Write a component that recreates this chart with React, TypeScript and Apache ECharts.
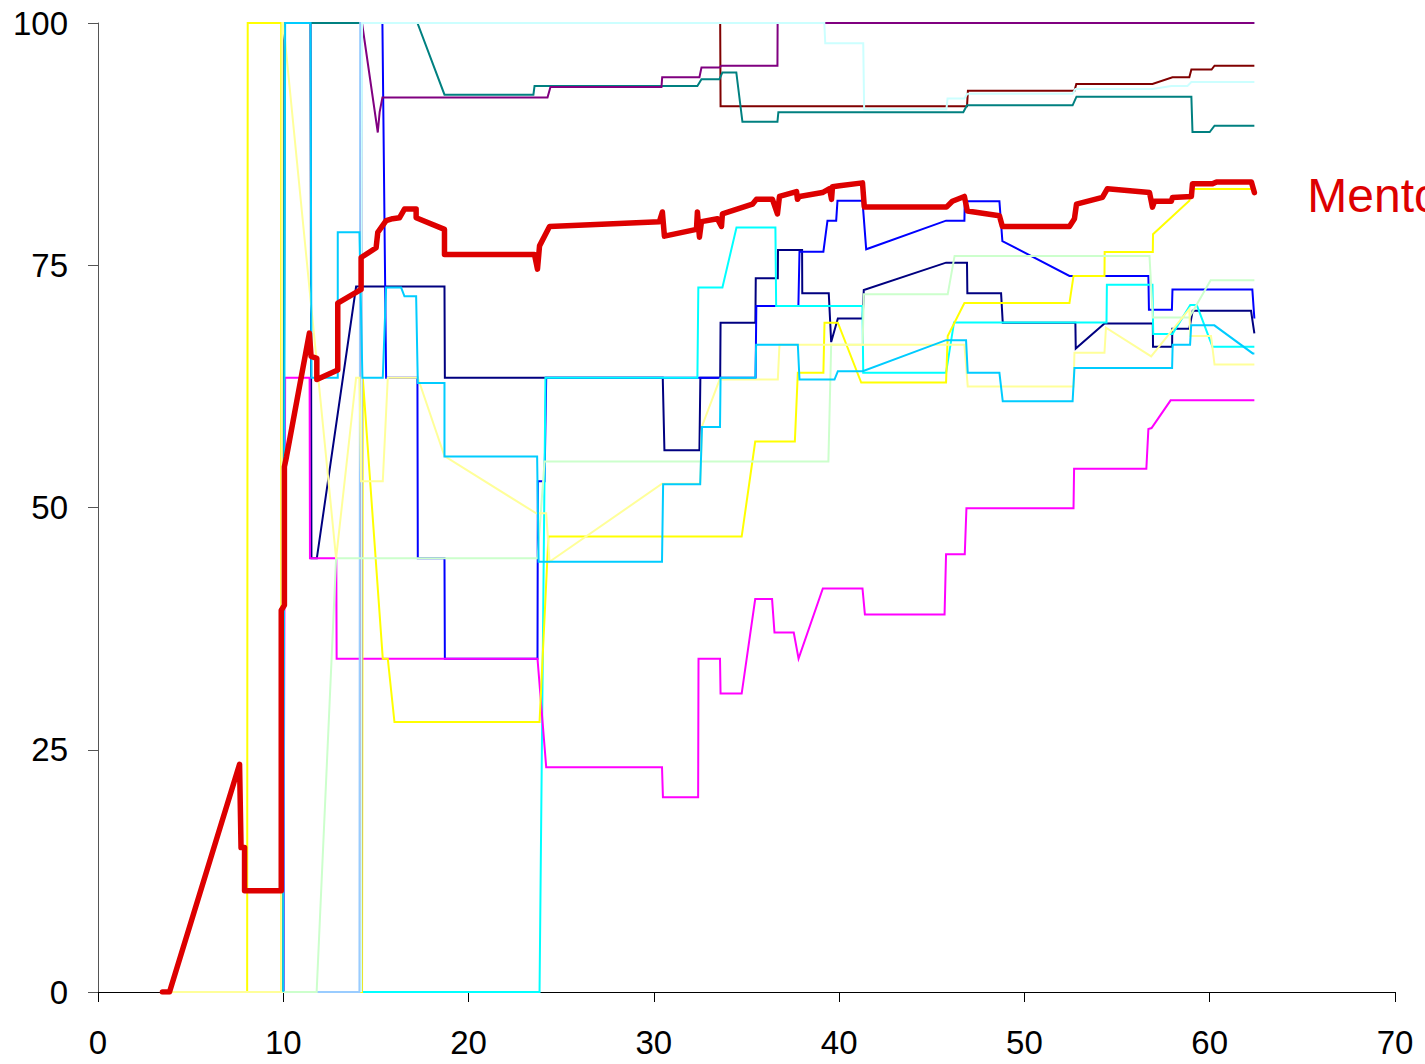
import { useEffect, useRef } from "react";
import * as echarts from "echarts";

// Axis ticks
const xTickValues = [0, 10, 20, 30, 40, 50, 60, 70];
const yTickValues = [0, 25, 50, 75, 100];

// Series values: [x, y] pairs
const maroon = [[9.96,0],[10.0,100],[33.58,100],[33.6,91.4],[46.9,91.4],[46.95,93.0],[52.7,93.0],[52.8,93.7],[56.91,93.7],[57.99,94.4],[58.9,94.4],[59.01,95.2],[60.1,95.2],[60.26,95.6],[62.41,95.6]];
const navy = [[10.0,0],[10.06,100],[11.47,100],[11.52,44.75],[11.81,44.75],[13.93,72.8],[18.7,72.8],[18.72,63.4],[30.48,63.4],[30.57,55.9],[32.46,55.9],[32.51,63.4],[33.58,63.4],[33.6,69.07],[35.48,69.07],[35.5,73.65],[36.69,73.65],[36.7,76.58],[38.0,76.58],[38.01,72.1],[39.44,72.1],[39.57,67.07],[39.93,69.5],[41.27,69.5],[41.33,72.45],[45.77,75.27],[46.9,75.27],[46.92,72.1],[48.74,72.1],[48.83,69.07],[52.75,69.07],[52.77,66.4],[54.32,69.0],[56.93,69.0],[56.94,66.6],[57.97,66.6],[57.98,68.45],[58.9,68.45],[59.08,70.3],[62.23,70.3],[62.41,67.96]];
const blue = [[10.0,0],[10.06,100],[15.35,100],[15.55,63.4],[17.24,63.4],[17.26,44.75],[18.7,44.75],[18.72,34.4],[23.72,34.4],[23.74,52.7],[24.1,52.7],[24.19,63.4],[35.49,63.4],[35.53,70.8],[37.8,70.8],[37.86,76.4],[39.15,76.4],[39.37,79.6],[39.84,79.6],[39.91,81.65],[41.26,81.65],[41.46,76.65],[45.77,79.6],[46.76,79.6],[46.78,81.6],[48.65,81.6],[48.81,77.5],[52.43,73.9],[56.69,73.9],[56.72,70.4],[57.96,70.4],[57.99,72.5],[62.3,72.5],[62.41,69.5]];
const cyan = [[10.0,0],[23.83,0],[24.15,63.4],[32.35,63.4],[32.4,72.7],[33.7,72.7],[34.46,78.9],[36.56,78.9],[36.6,70.8],[41.26,70.8],[41.3,63.9],[45.77,63.9],[46.2,69.1],[54.43,69.1],[54.45,73.0],[56.91,73.0],[56.95,67.9],[57.99,67.9],[58.95,70.9],[59.3,70.9],[60.15,66.6],[62.41,66.6]];
const magenta = [[10.0,0],[10.1,63.4],[11.42,63.4],[11.44,44.75],[12.86,44.75],[12.88,34.4],[23.72,34.4],[24.19,23.2],[30.44,23.2],[30.49,20.1],[32.39,20.1],[32.41,34.4],[33.57,34.4],[33.6,30.8],[34.74,30.8],[35.47,40.55],[36.38,40.55],[36.51,37.1],[37.55,37.1],[37.81,34.4],[39.12,41.65],[41.26,41.65],[41.39,38.97],[45.69,38.97],[45.77,45.17],[46.78,45.17],[46.87,49.93],[52.65,49.93],[52.68,54.0],[56.58,54.0],[56.69,58.1],[56.86,58.2],[57.89,61.06],[62.41,61.06]];
const yellow = [[4.0,0],[8.05,0],[8.08,100],[9.89,100],[9.89,0],[14.25,0],[14.29,63.4],[15.37,34.4],[15.64,34.4],[16.0,27.86],[23.83,27.86],[24.31,47.0],[34.74,47.0],[35.47,56.8],[37.61,56.8],[37.77,63.9],[39.15,63.9],[39.21,69.07],[39.93,69.07],[41.19,62.9],[45.77,62.9],[45.86,67.7],[46.76,71.1],[52.43,71.1],[52.65,73.9],[54.32,73.9],[54.33,76.37],[56.93,76.37],[56.94,78.2],[58.9,81.65],[59.08,82.86],[62.41,82.86]];
const teal = [[9.96,0],[10.06,100],[17.24,100],[18.7,92.6],[23.5,92.6],[23.56,93.5],[32.35,93.5],[32.57,94.2],[33.54,94.2],[33.7,94.9],[34.45,94.9],[34.78,89.8],[36.67,89.8],[36.72,90.8],[46.7,90.8],[46.9,91.5],[52.6,91.5],[52.81,92.4],[59.01,92.4],[59.07,88.75],[60.0,88.75],[60.26,89.4],[62.41,89.4]];
const lightBlue = [[10.0,0],[14.11,0],[14.15,100],[62.41,100]];
const purple = [[14.2,0],[14.25,100],[14.27,100],[15.1,88.7],[15.2,90.8],[15.35,92.3],[24.26,92.3],[24.42,93.4],[30.41,93.4],[30.45,94.4],[32.46,94.4],[32.57,95.4],[33.54,95.4],[33.65,95.6],[36.67,95.6],[36.68,100],[62.41,100]];
const lightCyan = [[14.2,0],[14.25,100],[39.2,100],[39.25,97.9],[41.3,97.9],[41.35,91.1],[45.79,91.1],[45.85,92.2],[46.76,92.2],[46.92,92.7],[52.6,92.7],[52.75,93.2],[56.91,93.2],[57.93,93.5],[58.8,93.5],[59.01,93.9],[62.41,93.9]];
const lightGreen = [[4.0,0],[11.8,0],[12.85,44.75],[23.72,44.75],[24.1,54.75],[39.42,54.75],[39.57,66.8],[41.27,66.8],[41.33,72.0],[45.86,72.0],[46.23,75.96],[56.75,75.96],[56.93,69.6],[58.9,69.6],[60.05,73.45],[62.41,73.45]];
const lightYellow = [[4.0,0],[9.89,0],[9.95,100],[10.0,100],[12.85,44.75],[13.93,63.4],[14.11,63.4],[14.2,52.7],[15.37,52.7],[15.64,63.4],[17.26,63.4],[18.7,55.3],[23.65,49.4],[24.19,49.4],[24.37,44.4],[30.44,52.45],[32.5,52.45],[32.6,58.4],[33.55,63.2],[36.69,63.2],[36.78,66.8],[46.76,66.8],[46.94,62.5],[52.65,62.5],[52.7,65.97],[54.32,65.97],[54.4,68.55],[56.84,65.6],[58.9,70.5],[58.95,67.7],[60.07,67.7],[60.26,64.75],[62.41,64.75]];
const skyBlue = [[10.0,0],[10.1,100],[11.47,100],[11.52,63.4],[12.94,63.4],[12.94,78.4],[14.11,78.4],[14.27,63.4],[15.37,63.4],[15.55,72.7],[16.36,72.7],[16.54,71.8],[17.17,71.8],[17.26,62.86],[18.7,62.86],[18.7,55.27],[23.7,55.27],[23.78,44.4],[30.44,44.4],[30.5,52.4],[32.5,52.4],[32.6,58.3],[33.57,58.3],[33.6,63.4],[35.48,63.4],[35.52,66.8],[37.77,66.8],[37.86,63.2],[39.75,63.2],[39.93,64.07],[41.27,64.07],[45.77,67.27],[46.85,67.27],[46.94,63.9],[48.65,63.9],[48.83,60.96],[52.6,60.96],[52.7,64.4],[57.97,64.4],[58.0,66.8],[58.94,66.8],[59.0,68.8],[60.25,68.8],[62.32,65.9],[62.41,65.9]];
const mentor = [[3.48,0],[3.86,0],[7.64,23.5],[7.72,14.9],[7.91,14.9],[7.91,10.45],[9.89,10.45],[9.89,39.4],[10.06,39.9],[10.06,54.2],[10.17,55.2],[11.41,68],[11.5,65.6],[11.81,65.4],[11.81,63.2],[12.94,64.2],[12.94,71.1],[13.93,72.2],[14.2,72.5],[14.2,75.8],[15.01,76.8],[15.1,78.4],[15.55,79.6],[15.9,79.8],[16.27,79.9],[16.54,80.8],[17.17,80.8],[17.17,79.9],[18.7,78.7],[18.7,76.1],[23.56,76.1],[23.72,74.6],[23.83,77],[24.37,79],[30.3,79.5],[30.46,80.5],[30.57,78],[32.3,78.7],[32.35,80.5],[32.46,77.9],[32.57,79.5],[33.43,79.8],[33.65,79],[33.7,80.3],[35.32,81.3],[35.53,81.8],[36.4,81.8],[36.67,80.3],[36.78,82.1],[37.7,82.6],[37.75,81.8],[37.86,82.1],[39.1,82.5],[39.48,82.9],[39.59,81.8],[39.64,83.1],[40.02,83.2],[41.26,83.5],[41.36,81],[45.79,81],[46.11,81.6],[46.76,82.1],[46.92,80.6],[48.65,80.1],[48.81,79],[52.43,79],[52.7,79.8],[52.81,81.3],[54.21,82],[54.48,82.9],[56.75,82.5],[56.91,81],[57.02,81.6],[57.93,81.6],[57.99,82],[59.01,82.1],[59.07,83.4],[60.15,83.4],[60.37,83.6],[62.25,83.6],[62.41,82.5]];

const mentorName = "Mentor";

const thinSeries = [
  { name: "S1", color: "#800000", data: maroon },
  { name: "S2", color: "#000080", data: navy },
  { name: "S3", color: "#0000FF", data: blue },
  { name: "S4", color: "#00FFFF", data: cyan },
  { name: "S5", color: "#FF00FF", data: magenta },
  { name: "S6", color: "#FFFF00", data: yellow },
  { name: "S7", color: "#008080", data: teal },
  { name: "S8", color: "#99CCFF", data: lightBlue },
  { name: "S9", color: "#800080", data: purple },
  { name: "S10", color: "#CCFFFF", data: lightCyan },
  { name: "S11", color: "#CCFFCC", data: lightGreen },
  { name: "S12", color: "#FFFF99", data: lightYellow },
  { name: "S13", color: "#00CCFF", data: skyBlue },
];

const FONT = "'Liberation Sans', Arial, sans-serif";

export default function App() {
  const ref = useRef<HTMLDivElement>(null);
  useEffect(() => {
    if (!ref.current) return;
    const chart = echarts.init(ref.current, undefined, { renderer: "svg" });
    const series: any[] = thinSeries.map((s) => ({
      name: s.name,
      type: "line",
      data: s.data,
      showSymbol: false,
      symbol: "none",
      silent: true,
      lineStyle: { color: s.color, width: 2, join: "miter" },
      itemStyle: { color: s.color },
      emphasis: { disabled: true },
    }));
    series.push({
      name: mentorName,
      type: "line",
      data: mentor,
      showSymbol: false,
      symbol: "none",
      silent: true,
      z: 5,
      lineStyle: { color: "#DD0000", width: 5.5, cap: "round", join: "round" },
      itemStyle: { color: "#DD0000" },
      emphasis: { disabled: true },
      endLabel: {
        show: true,
        formatter: mentorName,
        distance: 53,
        offset: [0, 3],
        color: "#DD0000",
        fontSize: 48,
        fontFamily: FONT,
      },
    });
    chart.setOption({
      animation: false,
      backgroundColor: "#ffffff",
      grid: { left: 98, right: 30, top: 23, bottom: 72, containLabel: false },
      xAxis: {
        type: "value",
        min: xTickValues[0],
        max: xTickValues[xTickValues.length - 1],
        interval: xTickValues[1] - xTickValues[0],
        splitLine: { show: false },
        axisLine: { show: true, onZero: false, lineStyle: { color: "#000", width: 1 } },
        axisTick: { show: true, length: 10, inside: false, lineStyle: { color: "#000" } },
        axisLabel: { color: "#000", fontSize: 33, fontFamily: FONT, margin: 34 },
      },
      yAxis: {
        type: "value",
        min: yTickValues[0],
        max: yTickValues[yTickValues.length - 1],
        interval: yTickValues[1] - yTickValues[0],
        splitLine: { show: false },
        axisLine: { show: true, lineStyle: { color: "#555", width: 1 } },
        axisTick: { show: true, length: 10, inside: false, lineStyle: { color: "#555" } },
        axisLabel: { color: "#000", fontSize: 33, fontFamily: FONT, margin: 30 },
      },
      series,
    });
    return () => chart.dispose();
  }, []);
  return (
    <div
      ref={ref}
      style={{ position: "absolute", left: 0, top: 0, width: 1425, height: 1064, background: "#fff" }}
    />
  );
}
